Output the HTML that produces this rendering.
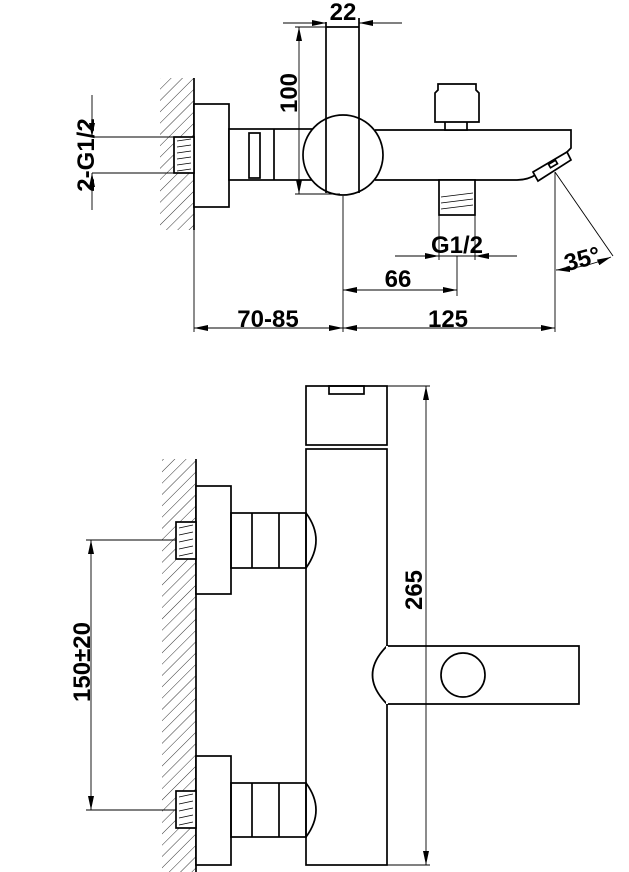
<!DOCTYPE html>
<html><head><meta charset="utf-8"><style>
html,body{margin:0;padding:0;background:#fff;}
svg{display:block;}
text{font-family:"Liberation Sans",Arial,sans-serif;font-weight:bold;font-size:24px;fill:#000;}
</style></head><body>
<svg width="629" height="872" viewBox="0 0 629 872" xmlns="http://www.w3.org/2000/svg">
<defs>
<pattern id="h" width="8" height="8" patternUnits="userSpaceOnUse" patternTransform="rotate(45)">
<line x1="0" y1="0" x2="0" y2="8" stroke="#000" stroke-width="0.8"/>
</pattern>
<marker id="a" markerWidth="14" markerHeight="6" refX="14" refY="3" orient="auto" markerUnits="userSpaceOnUse">
<path d="M0,0 L14,3 L0,6 z" fill="#000"/></marker>
<marker id="b" markerWidth="14" markerHeight="6" refX="0" refY="3" orient="auto" markerUnits="userSpaceOnUse">
<path d="M14,0 L0,3 L14,6 z" fill="#000"/></marker>
</defs>
<g fill="none" stroke="#000" stroke-width="1.7">
<rect x="160" y="78" width="34" height="152" fill="url(#h)" stroke="none"/>
<line x1="194" y1="78" x2="194" y2="230"/>
<rect x="194" y="104" width="35" height="103" fill="#fff"/>
<rect x="174" y="137" width="20" height="36" fill="#fff"/>
<path d="M177,141 L191,139 M177,147 L191,145 M177,153 L191,151 M177,159 L191,157 M177,165 L191,163 M177,171 L191,169" stroke-width="0.8"/>
<line x1="92" y1="137" x2="174" y2="137" stroke-width="0.9"/>
<line x1="92" y1="173" x2="174" y2="173" stroke-width="0.9"/>
<line x1="92" y1="95" x2="92" y2="137" stroke-width="0.9" marker-end="url(#a)"/>
<line x1="92" y1="210" x2="92" y2="173" stroke-width="0.9" marker-end="url(#a)"/>
<rect x="229" y="129" width="84" height="51" fill="#fff"/>
<rect x="249" y="133" width="11" height="45"/>
<line x1="274" y1="129" x2="274" y2="180"/>
<path d="M375,130 L571,130 L571,148 L566,153"/>
<path d="M375,180 L517,180 Q528,180 537,174"/>
<polygon points="533,172 567,152 571,160 538,181" fill="#fff"/>
<rect x="549" y="162" width="8" height="4" transform="rotate(-30 553 164)"/>
<rect x="445" y="121" width="22" height="9" fill="#fff"/>
<path d="M435,122 L479,122 L479,93 L476,90 L476,84 L438,84 L438,90 L435,93 Z" fill="#fff"/>
<rect x="439" y="180" width="36" height="35" fill="#fff"/>
<path d="M441,197 L473,193 M441,203 L473,199 M441,209 L473,205" stroke-width="0.8"/>
<circle cx="343" cy="155" r="40" fill="#fff"/>
<line x1="326" y1="22" x2="326" y2="193"/>
<line x1="359" y1="18" x2="359" y2="193"/>
<line x1="326" y1="27" x2="359" y2="27"/>
<g stroke-width="0.9">
<line x1="283" y1="23" x2="326" y2="23" marker-end="url(#a)"/>
<line x1="402" y1="23" x2="359" y2="23" marker-end="url(#a)"/>
<line x1="295" y1="27" x2="326" y2="27"/>
<line x1="295" y1="194" x2="340" y2="194"/>
<line x1="299" y1="27" x2="299" y2="194" marker-start="url(#b)" marker-end="url(#a)"/>
<line x1="343" y1="196" x2="343" y2="332"/>
<line x1="439" y1="215" x2="439" y2="260"/>
<line x1="475" y1="215" x2="475" y2="260"/>
<line x1="395" y1="256" x2="439" y2="256" marker-end="url(#a)"/>
<line x1="517" y1="256" x2="475" y2="256" marker-end="url(#a)"/>
<line x1="439" y1="256" x2="475" y2="256"/>
<line x1="457" y1="256" x2="457" y2="296"/>
<line x1="343" y1="290" x2="457" y2="290" marker-start="url(#b)" marker-end="url(#a)"/>
<line x1="194" y1="230" x2="194" y2="332"/>
<line x1="555" y1="172" x2="555" y2="332"/>
<line x1="194" y1="328" x2="343" y2="328" marker-start="url(#b)" marker-end="url(#a)"/>
<line x1="343" y1="328" x2="555" y2="328" marker-start="url(#b)" marker-end="url(#a)"/>
<line x1="555" y1="172" x2="613" y2="256"/>
<path d="M556,270 Q585,268 611,257" marker-start="url(#b)" marker-end="url(#a)"/>
</g>
<rect x="162" y="459" width="34" height="413" fill="url(#h)" stroke="none"/>
<line x1="196" y1="459" x2="196" y2="872"/>
<rect x="196" y="486" width="35" height="108" fill="#fff"/>
<rect x="196" y="756" width="35" height="109" fill="#fff"/>
<rect x="176" y="522" width="20" height="37" fill="#fff"/>
<rect x="176" y="791" width="20" height="37" fill="#fff"/>
<path d="M179,528 L193,525 M179,535 L193,532 M179,542 L193,539 M179,549 L193,546 M179,556 L193,553" stroke-width="0.8"/>
<path d="M179,797 L193,794 M179,804 L193,801 M179,811 L193,808 M179,818 L193,815 M179,825 L193,822" stroke-width="0.8"/>
<rect x="231" y="513" width="75" height="55"/>
<line x1="252" y1="513" x2="252" y2="568"/><line x1="279" y1="513" x2="279" y2="568"/>
<path d="M306,513 Q326,540 306,568"/>
<rect x="231" y="783" width="75" height="54"/>
<line x1="252" y1="783" x2="252" y2="837"/><line x1="279" y1="783" x2="279" y2="837"/>
<path d="M306,783 Q326,810 306,837"/>
<rect x="306" y="449" width="81" height="416"/>
<rect x="306" y="386" width="81" height="59"/>
<rect x="329" y="386" width="35" height="8"/>
<path d="M387,646 L579,646 L579,704 L387,704" fill="#fff"/>
<path d="M387,646 Q358,675 387,704"/>
<line x1="387" y1="646" x2="387" y2="704" stroke="#fff" stroke-width="2"/>
<circle cx="463" cy="675" r="22"/>
<g stroke-width="0.9">
<line x1="86" y1="540" x2="176" y2="540"/>
<line x1="86" y1="810" x2="176" y2="810"/>
<line x1="91" y1="540" x2="91" y2="810" marker-start="url(#b)" marker-end="url(#a)"/>
<line x1="387" y1="386" x2="430" y2="386"/>
<line x1="387" y1="865" x2="430" y2="865"/>
<line x1="426" y1="386" x2="426" y2="865" marker-start="url(#b)" marker-end="url(#a)"/>
</g>
</g>
<text x="343" y="20" text-anchor="middle">22</text>
<text transform="translate(297,93) rotate(-90)" text-anchor="middle">100</text>
<text transform="translate(94,155) rotate(-90)" text-anchor="middle">2-G1/2</text>
<text x="457" y="253" text-anchor="middle">G1/2</text>
<text x="398" y="287" text-anchor="middle">66</text>
<text x="268" y="327" text-anchor="middle">70-85</text>
<text x="448" y="327" text-anchor="middle">125</text>
<text x="582" y="267" text-anchor="middle" transform="rotate(-15 582 258)">35°</text>
<text transform="translate(90,662) rotate(-90)" text-anchor="middle">150±20</text>
<text transform="translate(422,590) rotate(-90)" text-anchor="middle">265</text>
</svg>
</body></html>
